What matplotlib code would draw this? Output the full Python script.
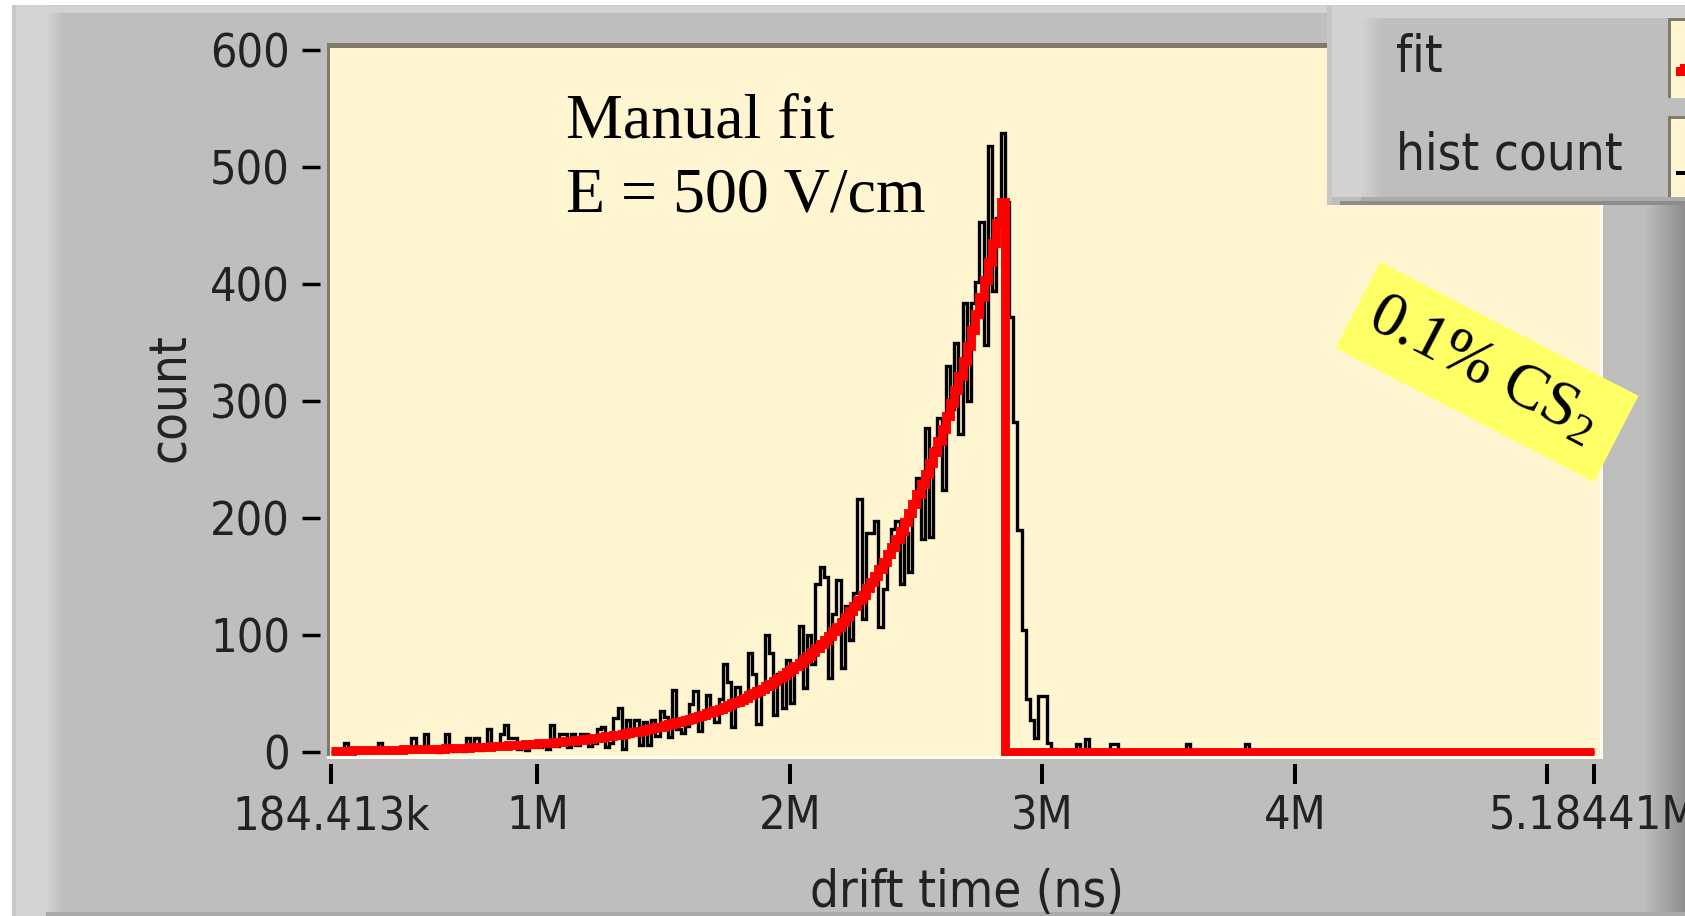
import numpy as np
import matplotlib
matplotlib.use('Agg')
import matplotlib.pyplot as plt
from matplotlib.patches import Rectangle
from matplotlib import font_manager as fm

# ---------------- fonts ----------------
# LabVIEW uses a narrow sans face; use a condensed face if one is installed.
_narrow = None
for f in fm.fontManager.ttflist:
    nm = f.name.lower()
    st = str(f.stretch).lower()
    if (('narrow' in nm or 'condensed' in nm or st in ('condensed', 'semi-condensed'))
            and str(f.style) == 'normal' and str(f.weight) in ('400', 'normal', 'regular', 'book')
            and ('sans' in nm)):
        if _narrow is None or 'liberation' in nm:
            _narrow = f.fname
if _narrow is not None:
    SANS = fm.FontProperties(fname=_narrow)
    SANS_SIZE = 36.5
    TICK_SIZE = 33.5
else:
    SANS = fm.FontProperties(family=['Liberation Sans', 'DejaVu Sans'])
    SANS_SIZE = 34
    TICK_SIZE = 32

plt.rcParams['mathtext.fontset'] = 'custom'
plt.rcParams['mathtext.rm'] = 'Liberation Serif'
plt.rcParams['mathtext.it'] = 'Liberation Serif:italic'


def sans(size=None):
    p = SANS.copy()
    p.set_size(SANS_SIZE if size is None else size)
    return p

# ---------------- data ----------------
x_start = 184413          # ns, first bin edge
x_end = 5184413           # ns, last bin edge

hist_counts = [
    0, 1, 0, 8, 0, 1, 0, 2, 1, 0,
    1, 8, 1, 2, 0, 3, 2, 1, 2, 12,
    3, 1, 15, 2, 1, 0, 3, 15, 2, 1,
    3, 1, 12, 5, 12, 2, 6, 20, 4, 6,
    15, 23, 12, 12, 3, 5, 2, 6, 4, 4,
    6, 3, 23, 5, 15, 15, 4, 15, 6, 15,
    15, 5, 8, 20, 21, 4, 8, 29, 38, 3,
    27, 15, 27, 6, 26, 6, 27, 14, 35, 30,
    13, 53, 20, 16, 22, 41, 52, 18, 30, 49,
    34, 26, 45, 75, 60, 21, 56, 42, 45, 85,
    67, 24, 56, 100, 85, 32, 67, 38, 79, 42,
    75, 108, 55, 100, 75, 144, 158, 150, 63, 118,
    147, 72, 125, 96, 136, 216, 114, 187, 187, 198,
    107, 139, 168, 191, 198, 144, 187, 154, 213, 234,
    182, 277, 184, 260, 286, 224, 330, 293, 350, 272,
    384, 300, 384, 402, 453, 348, 518, 394, 457, 529,
    470, 372, 282, 190, 104, 45, 27, 12, 48, 48,
    8, 3, 2, 0, 1, 0, 0, 7, 0, 11,
    1, 0, 0, 1, 0, 7, 7, 0, 1, 0,
    0, 0, 1, 0, 0, 0, 1, 0, 0, 0,
    1, 0, 0, 7, 0, 0, 1, 0, 0, 0,
    0, 1, 0, 0, 0, 0, 1, 7, 0, 0,
    0, 1, 0, 0, 0, 0, 0, 1, 0, 0,
    0, 0, 0, 0, 1, 0, 0, 0, 0, 0,
    0, 0, 1, 0, 0, 0, 0, 0, 0, 0,
    0, 0, 0, 0, 0, 1, 0, 0, 0, 0,
    0, 0, 0, 0, 0, 0, 0, 0, 1, 0,
    0, 0, 0, 0, 0, 0, 0, 0, 0, 0,
    0, 1, 0, 0, 0, 0, 0, 0, 0, 0,
    0, 0, 0, 0, 0, 0, 0, 0, 0, 0,
]

fit_values = [
    1.1, 1.2, 1.2, 1.3, 1.3, 1.4, 1.4, 1.5, 1.5, 1.6,
    1.7, 1.7, 1.8, 1.9, 1.9, 2.0, 2.1, 2.2, 2.3, 2.3,
    2.4, 2.5, 2.6, 2.7, 2.8, 2.9, 3.0, 3.2, 3.3, 3.4,
    3.5, 3.7, 3.8, 4.0, 4.1, 4.3, 4.4, 4.6, 4.8, 5.0,
    5.2, 5.4, 5.6, 5.8, 6.0, 6.2, 6.5, 6.7, 7.0, 7.3,
    7.5, 7.8, 8.1, 8.4, 8.8, 9.1, 9.5, 9.8, 10.2, 10.6,
    11.0, 11.4, 11.9, 12.3, 12.8, 13.3, 13.8, 14.4, 14.9, 15.5,
    16.1, 16.7, 17.4, 18.0, 18.7, 19.5, 20.2, 21.0, 21.8, 22.7,
    23.6, 24.5, 25.4, 26.4, 27.4, 28.5, 29.6, 30.7, 31.9, 33.1,
    34.4, 35.7, 37.1, 38.5, 40.0, 41.6, 43.2, 44.9, 46.6, 48.4,
    50.3, 52.2, 54.2, 56.3, 58.5, 60.8, 63.1, 65.6, 68.1, 70.7,
    73.5, 76.3, 79.2, 82.3, 85.5, 88.8, 92.2, 95.8, 99.5, 103.3,
    107.3, 111.4, 115.7, 120.2, 124.9, 129.7, 134.7, 139.9, 145.3, 150.8,
    156.6, 162.7, 169.0, 175.5, 182.3, 189.3, 196.6, 204.2, 212.1, 220.3,
    228.8, 237.6, 246.8, 256.3, 266.2, 276.5, 287.2, 298.3, 309.8, 321.8,
    334.2, 347.1, 360.5, 374.4, 388.9, 403.9, 419.5, 435.7, 452.5, 470.0,
    0, 0, 0, 0, 0, 0, 0, 0, 0, 0,
    0, 0, 0, 0, 0, 0, 0, 0, 0, 0,
    0, 0, 0, 0, 0, 0, 0, 0, 0, 0,
    0, 0, 0, 0, 0, 0, 0, 0, 0, 0,
    0, 0, 0, 0, 0, 0, 0, 0, 0, 0,
    0, 0, 0, 0, 0, 0, 0, 0, 0, 0,
    0, 0, 0, 0, 0, 0, 0, 0, 0, 0,
    0, 0, 0, 0, 0, 0, 0, 0, 0, 0,
    0, 0, 0, 0, 0, 0, 0, 0, 0, 0,
    0, 0, 0, 0, 0, 0, 0, 0, 0, 0,
    0, 0, 0, 0, 0, 0, 0, 0, 0, 0,
    0, 0, 0, 0, 0, 0, 0, 0, 0, 0,
    0, 0, 0, 0, 0, 0, 0, 0, 0, 0,
    0, 0, 0, 0, 0, 0, 0, 0, 0, 0,
]

x_tick_values = [184413, 1000000, 2000000, 3000000, 4000000, 5000000, 5184413]
x_tick_labels = ['184.413k', '1M', '2M', '3M', '4M', '', '5.18441M']
y_tick_values = [0, 100, 200, 300, 400, 500, 600]
y_tick_labels = ['0', '100', '200', '300', '400', '500', '600']

# ---------------- figure ----------------
W, H = 1685, 916
TXT = '#222222'
fig = plt.figure(figsize=(W / 100, H / 100), dpi=100, facecolor='#BEBEBE')


def rect(x0, y0, x1, y1, color, z=1):
    fig.add_artist(Rectangle((x0 / 100, (H - y1) / 100), (x1 - x0) / 100, (y1 - y0) / 100,
                             transform=fig.dpi_scale_trans, facecolor=color,
                             edgecolor='none', zorder=z))


def hgrad(x0, x1, y0, y1, c0, c1, z=1, step=2):
    c0 = np.array(matplotlib.colors.to_rgb(c0))
    c1 = np.array(matplotlib.colors.to_rgb(c1))
    xs = np.arange(x0, x1, step)
    for i, x in enumerate(xs):
        t = i / max(len(xs) - 1, 1)
        rect(x, y0, min(x + step, x1), y1, tuple(c0 + (c1 - c0) * t), z)


# outer window decoration (behind the axes)
rect(0, 0, W, 5, 'white', -2)
rect(0, 0, 12, H, 'white', -2)
rect(12, 5, W, 13, '#D2D2D2', -2)
rect(12, 5, 16, H, '#C8C8C8', -2)
rect(16, 5, 48, H, '#D3D3D3', -2)
hgrad(48, 64, 13, H, '#D0D0D0', '#BEBEBE', -2)
rect(46, 912, W, H, '#A9A9A9', -2)
hgrad(1643, W, 205, 912, '#BEBEBE', '#8E8E8E', -2)

# plot area
L, R, T, B = 330, 1600, 48, 756
ax = fig.add_axes([L / W, 1 - B / H, (R - L) / W, (B - T) / H])
ax.set_facecolor('#FFF5D0')
edges = np.linspace(x_start, x_end, len(hist_counts) + 1)
ax.stairs(hist_counts, edges, baseline=None, color='black', lw=2.4, zorder=2)
ax.stairs(fit_values, edges, baseline=None, color='#FF0000', lw=6.4, zorder=3)

ax.set_xlim(178868, 5208547)
ax.set_ylim(-3.4, 602.1)
ax.set_xticks(x_tick_values)
ax.set_xticklabels(x_tick_labels)
ax.set_yticks(y_tick_values)
ax.set_yticklabels(y_tick_labels)
for s in ax.spines.values():
    s.set_visible(False)
ax.spines['left'].set_position(('outward', 7.2))
ax.spines['bottom'].set_position(('outward', 5.8))
ax.tick_params(axis='y', length=13, width=2.5, pad=8.6, labelsize=TICK_SIZE,
               color='black', labelcolor=TXT)
ax.tick_params(axis='x', length=14.4, width=2.9, pad=7.5, labelsize=TICK_SIZE,
               color='black', labelcolor=TXT)

# plot frame (sunken look)
rect(327, 43, 1600, 48, '#7F7A6A', 1)
rect(327, 43, 330, 758, '#7F7A6A', 1)
rect(327, 756, 1603, 759, '#FFFBEF', 1)
rect(1600, 43, 1603, 759, '#FFFBEF', 1)

# axis titles
fig.text(171 / W, 1 - 398 / H, 'count', rotation=90, ha='center', va='center',
         fontproperties=sans(), color=TXT)
fig.text(967 / W, 1 - 907 / H, 'drift time (ns)', ha='center', va='baseline',
         fontproperties=sans(), color=TXT)

# annotations
fig.text(566 / W, 1 - 137 / H, 'Manual fit', family='Liberation Serif',
         fontsize=46, color='black', va='baseline', ha='left')
fig.text(566 / W, 1 - 212 / H, 'E = 500 V/cm', family='Liberation Serif',
         fontsize=46, color='black', va='baseline', ha='left')

cx, cy, ang = 1487, 372, -27.4
bw, bh = 291, 97
fig.add_artist(Rectangle(((cx - bw / 2) / 100, (H - cy - bh / 2) / 100), bw / 100, bh / 100,
                         angle=ang, rotation_point='center', transform=fig.dpi_scale_trans,
                         facecolor='#FFFF66', edgecolor='none', zorder=6))
fig.text((cx - 4) / 100, (H - cy + 2) / 100, r'0.1% CS$_2$', transform=fig.dpi_scale_trans,
         family='Liberation Serif', fontsize=46, rotation=ang, rotation_mode='anchor',
         ha='center', va='center', color='black', zorder=7)

# legend panel
rect(1327, 5, W, 205, '#BEBEBE', 5)
rect(1327, 5, W, 18, '#D2D2D2', 5)
rect(1327, 5, 1332, 205, '#C6C6C6', 5)
rect(1332, 18, 1362, 197, '#D2D2D2', 5)
hgrad(1362, 1384, 18, 197, '#D0D0D0', '#BEBEBE', 5)
rect(1361, 197, W, 201, '#ABABAB', 5)
rect(1340, 201, W, 205, '#8C8C8C', 5)
for (y0, y1) in [(18, 98), (116, 197)]:
    rect(1668, y0, W, y1, '#FFF5D0', 5)
    rect(1668, y0, 1671, y1, '#7F7A6A', 5)
    rect(1668, y0, W, y0 + 3, '#7F7A6A', 5)
rect(1676, 67, W, 76, '#FF0000', 5.5)
rect(1680, 64, W, 70, '#FF0000', 5.5)
rect(1676, 171, W, 175, 'black', 5.5)
fig.text(1396 / W, 1 - 72 / H, 'fit', fontproperties=sans(), color=TXT, va='baseline',
         ha='left', zorder=6)
fig.text(1396 / W, 1 - 170 / H, 'hist count', fontproperties=sans(), color=TXT,
         va='baseline', ha='left', zorder=6)

# apply the narrow face to the tick labels last
for lbl in ax.get_xticklabels() + ax.get_yticklabels():
    lbl.set_fontproperties(sans(TICK_SIZE))

fig.savefig('out.png', dpi=100, facecolor=fig.get_facecolor())
